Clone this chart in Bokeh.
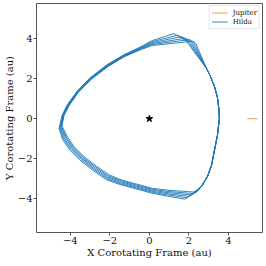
from bokeh.plotting import figure
from bokeh.models import Range1d, FixedTicker, Legend, LegendItem
from bokeh.embed import file_html
from bokeh.resources import INLINE

# ---------------- data ----------------
TICKS = [-4, -2, 0, 2, 4]

JUPITER_X = [4.95, 5.46]
JUPITER_Y = [0.0, 0.0]

SUN_X = [0.0]
SUN_Y = [0.0]

# shared right-hand (perihelion) side, bottom -> top
RIGHT_X = [2.94, 3.14, 3.29, 3.44, 3.54, 3.51, 3.44, 3.29, 3.09, 2.89]
RIGHT_Y = [-2.89, -2.34, -1.59, -0.84, 0.02, 0.52, 1.07, 1.62, 2.12, 2.52]

# six successive revolutions of the Hilda asteroid (top kink -> left -> bottom)
LAP0_X = [1.84, 1.24, 0.14, -0.47, -1.27, -2.145, -3.00, -3.65, -4.16, -4.41, -4.57,
          -4.39, -4.03, -3.51, -2.85, -2.18, -1.50, -0.72, 0.14, 0.94, 1.79, 2.59]
LAP0_Y = [3.92, 4.27, 3.92, 3.59, 3.22, 2.71, 2.05, 1.39, 0.69, 0.18, -0.49,
          -1.05, -1.57, -2.08, -2.60, -3.06, -3.30, -3.51, -3.74, -3.89, -4.04, -3.44]
LAP1_X = [1.94, 1.44, 0.14, -0.47, -1.27, -2.13, -2.98, -3.64, -4.14, -4.39, -4.54,
          -4.34, -3.98, -3.47, -2.81, -2.15, -1.49, -0.72, 0.14, 0.94, 1.91, 2.61]
LAP1_Y = [3.89, 4.19, 3.87, 3.56, 3.20, 2.69, 2.03, 1.38, 0.68, 0.17, -0.46,
          -1.02, -1.53, -2.04, -2.55, -3.01, -3.26, -3.46, -3.69, -3.83, -3.97, -3.42]
LAP2_X = [2.04, 1.64, 0.14, -0.47, -1.27, -2.12, -2.97, -3.62, -4.12, -4.37, -4.51,
          -4.29, -3.94, -3.43, -2.78, -2.13, -1.47, -0.72, 0.14, 0.94, 2.03, 2.63]
LAP2_Y = [3.87, 4.12, 3.82, 3.53, 3.18, 2.67, 2.02, 1.37, 0.67, 0.17, -0.44,
          -1.00, -1.50, -2.00, -2.51, -2.96, -3.21, -3.41, -3.64, -3.77, -3.90, -3.40]
LAP3_X = [2.14, 1.84, 0.14, -0.47, -1.27, -2.11, -2.96, -3.61, -4.11, -4.36, -4.48,
          -4.24, -3.89, -3.40, -2.75, -2.10, -1.46, -0.72, 0.14, 0.94, 2.15, 2.65]
LAP3_Y = [3.84, 4.04, 3.77, 3.51, 3.15, 2.66, 2.01, 1.36, 0.66, 0.16, -0.41,
          -0.97, -1.47, -1.97, -2.46, -2.91, -3.16, -3.36, -3.59, -3.71, -3.83, -3.38]
LAP4_X = [2.24, 2.04, 0.14, -0.47, -1.27, -2.10, -2.95, -3.59, -4.09, -4.34, -4.45,
          -4.19, -3.85, -3.36, -2.72, -2.08, -1.44, -0.72, 0.14, 0.94, 2.27, 2.67]
LAP4_Y = [3.82, 3.97, 3.72, 3.48, 3.13, 2.64, 2.00, 1.35, 0.65, 0.16, -0.39,
          -0.95, -1.44, -1.93, -2.42, -2.86, -3.11, -3.31, -3.54, -3.65, -3.76, -3.36]
LAP5_X = [2.34, 2.19, 0.14, -0.47, -1.27, -2.085, -2.93, -3.58, -4.07, -4.32, -4.42,
          -4.14, -3.81, -3.32, -2.68, -2.05, -1.43, -0.72, 0.14, 0.94, 2.39, 2.69]
LAP5_Y = [3.79, 3.89, 3.67, 3.45, 3.11, 2.62, 1.98, 1.34, 0.64, 0.15, -0.36,
          -0.92, -1.40, -1.89, -2.38, -2.81, -3.07, -3.26, -3.49, -3.59, -3.69, -3.34]

LAPS_X = [LAP0_X, LAP1_X, LAP2_X, LAP3_X, LAP4_X, LAP5_X]
LAPS_Y = [LAP0_Y, LAP1_Y, LAP2_Y, LAP3_Y, LAP4_Y, LAP5_Y]

hx = [RIGHT_X[-1]]
hy = [RIGHT_Y[-1]]
for lx, ly in zip(LAPS_X, LAPS_Y):
    hx += lx + RIGHT_X
    hy += ly + RIGHT_Y

# ---------------- figure ----------------
SERIF = "DejaVu Serif"
TXT = "#111111"
FRAME = "#555555"

p = figure(width=264, height=262, output_backend="svg", toolbar_location=None,
           x_range=Range1d(-5.71, 5.72), y_range=Range1d(-5.71, 5.78),
           min_border_left=33, min_border_right=2, min_border_top=3, min_border_bottom=30)
p.xgrid.visible = False
p.ygrid.visible = False
p.outline_line_color = FRAME
p.outline_line_width = 1
p.outline_line_alpha = 1.0

for ax in (p.xaxis[0], p.yaxis[0]):
    ax.ticker = FixedTicker(ticks=TICKS)
    ax.minor_tick_line_color = None
    ax.major_tick_in = 0
    ax.major_tick_out = 3
    ax.major_tick_line_color = FRAME
    ax.axis_line_color = None
    ax.major_label_text_font = SERIF
    ax.major_label_text_font_size = "10px"
    ax.major_label_text_color = TXT
    ax.axis_label_text_font = SERIF
    ax.axis_label_text_font_size = "10px"
    ax.axis_label_text_font_style = "normal"
    ax.axis_label_text_color = TXT

p.xaxis[0].axis_label = "X Corotating Frame (au)"
p.yaxis[0].axis_label = "Y Corotating Frame (au)"
p.xaxis[0].major_label_standoff = 1
p.xaxis[0].axis_label_standoff = 0
p.yaxis[0].major_label_standoff = 1
p.yaxis[0].axis_label_standoff = 0

j = p.line(JUPITER_X, JUPITER_Y, line_color="#ff7f0e", line_width=1.0, line_alpha=0.8)
h = p.line(hx, hy, line_color="#1f77b4", line_width=0.9, line_join="round")
p.scatter(SUN_X, SUN_Y, marker="star", size=7, color="black")

legend = Legend(items=[LegendItem(label="Jupiter", renderers=[j]),
                       LegendItem(label="Hilda", renderers=[h])],
                location="top_right", label_text_font=SERIF, label_text_font_size="7px",
                label_text_color=TXT, glyph_width=16, glyph_height=9, label_height=9,
                label_standoff=5, spacing=0, padding=2, margin=2,
                border_line_color="#cccccc", border_line_width=1,
                background_fill_alpha=0.8)
p.add_layout(legend)

open("out.html", "w").write(file_html(p, INLINE))
